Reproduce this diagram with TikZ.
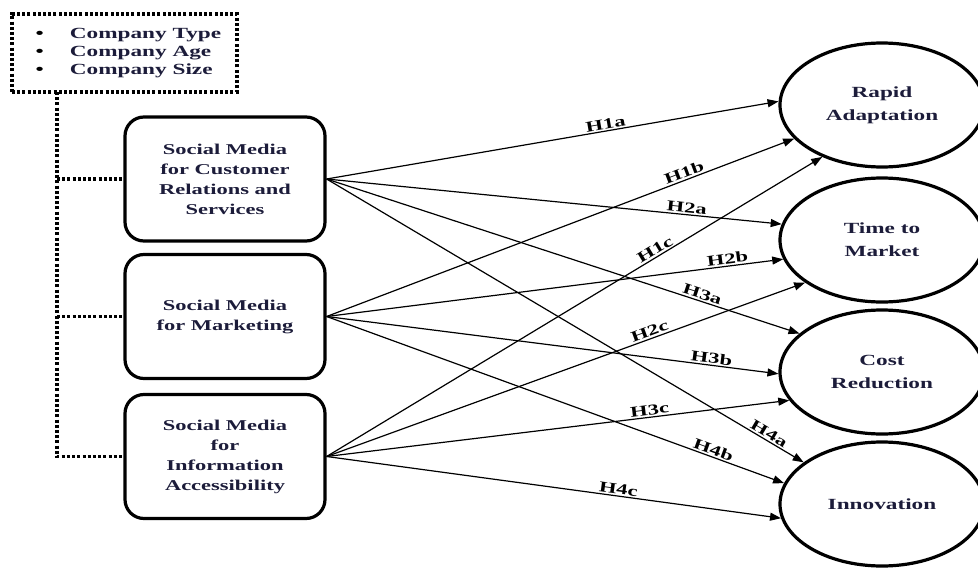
\documentclass[tikz,border=0pt]{standalone}
\usepackage{fontspec}
\setmainfont[FakeStretch=1.5]{Liberation Serif}
\usetikzlibrary{arrows.meta,shapes.geometric}
\definecolor{txt}{RGB}{28,28,58}
\begin{document}
\begin{tikzpicture}[x=1pt,y=-1pt,
  srcbox/.style={draw, line width=3.2pt, rounded corners=19pt, minimum width=200pt, minimum height=124pt,
    inner sep=2pt, align=center, font=\fontsize{15}{20}\selectfont\bfseries, text=txt},
  outc/.style={ellipse, draw, line width=3.2pt, minimum width=204pt, minimum height=124pt,
    inner sep=0pt, align=center, font=\fontsize{15.5}{23}\selectfont\bfseries, text=txt},
  hyp/.style={-{Triangle[length=11pt,width=8pt]}, line width=1.2pt},
  lab/.style={sloped, above, inner sep=1.5pt, font=\fontsize{15}{18}\selectfont\bfseries},
  dots/.style={line width=3.4pt, dash pattern=on 3pt off 2.2pt}]
\useasboundingbox (0,0) rectangle (978,570);

% legend
\node[dots, draw, minimum width=225pt, minimum height=78pt, inner sep=0pt,
      font=\fontsize{15.5}{18}\selectfont\bfseries] (legend) at (124.5,53)
  {\hspace*{8pt}\begin{tabular}{@{}c@{\hspace{26pt}}l@{}}
   \textbullet & \textcolor{txt}{Company Type}\\
   \textbullet & \textcolor{txt}{Company Age}\\
   \textbullet & \textcolor{txt}{Company Size}
   \end{tabular}};

% source boxes
\node[srcbox] (b1) at (225,179) {Social Media\\for Customer\\Relations and\\Services};
\node[srcbox] (b2) at (225,316.5) {Social Media\\for Marketing};
\node[srcbox] (b3) at (225,456.5) {Social Media\\for\\Information\\Accessibility};

% outcomes
\node[outc] (ra) at (882,105) {Rapid\\Adaptation};
\node[outc] (tm) at (882,240) {Time to\\Market};
\node[outc] (cr) at (882,372) {Cost\\Reduction};
\node[outc] (in) at (882,504) {Innovation};

% control connectors
\coordinate (top) at (57,92);
\draw[dots] (top) |- (b3.west);
\draw[dots] (b1.west -| top) -- (b1.west);
\draw[dots] (b2.west -| top) -- (b2.west);

% hypotheses
\draw[hyp] (b1.east) -- node[lab,pos=0.62]{H1a} (ra.178);
\draw[hyp] (b2.east) -- node[lab,pos=0.77]{H1b} (ra.201);
\draw[hyp] (b3.east) -- node[lab,pos=0.67]{H1c} (ra.221);
\draw[hyp] (b1.east) -- node[lab,pos=0.79]{H2a} (tm.171);
\draw[hyp] (b2.east) -- node[lab,pos=0.88]{H2b} (tm.191);
\draw[hyp] (b3.east) -- node[lab,pos=0.68]{H2c} (tm.209);
\draw[hyp] (b1.east) -- node[lab,pos=0.79]{H3a} (cr.155);
\draw[hyp] (b2.east) -- node[lab,pos=0.85]{H3b} (cr.181);
\draw[hyp] (b3.east) -- node[lab,pos=0.70]{H3c} (cr.197);
\draw[hyp] (b1.east) -- node[lab,pos=0.92]{H4a} (in.152);
\draw[hyp] (b2.east) -- node[lab,pos=0.84]{H4b} (in.168);
\draw[hyp] (b3.east) -- node[lab,pos=0.64]{H4c} (in.188);
\end{tikzpicture}
\end{document}
